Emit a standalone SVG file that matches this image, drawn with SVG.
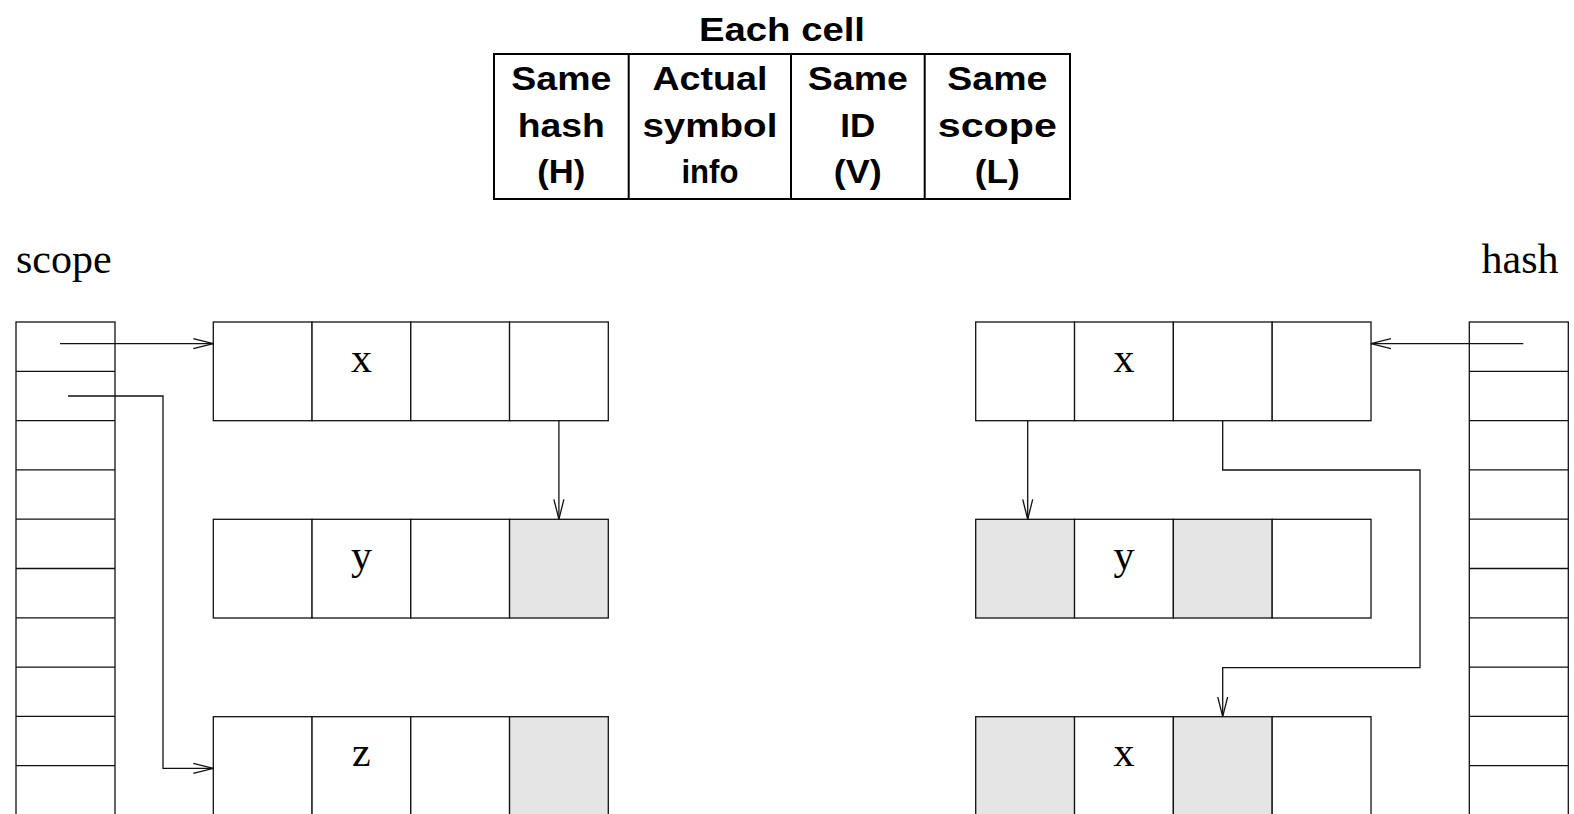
<svg xmlns="http://www.w3.org/2000/svg" width="1574" height="814" viewBox="0 0 1574 814">
<defs>
<style>
.ln{fill:none;stroke:#111;stroke-width:1.3}
.c{fill:#fff;stroke:#111;stroke-width:1.3}
.g{fill:#e5e5e5;stroke:#111;stroke-width:1.3}
.tb{fill:none;stroke:#000;stroke-width:2}
.th{font-family:"Liberation Sans",Arial,sans-serif;font-weight:bold;font-size:34px;text-anchor:middle;fill:#000}
.tt{font-family:"Liberation Serif","Times New Roman",serif;font-size:42px;fill:#000}
.cn{fill:none;stroke:#111;stroke-width:1.3}
</style>
<marker id="ah" markerWidth="22" markerHeight="12" refX="20" refY="6" orient="auto" markerUnits="userSpaceOnUse">
<path d="M0,1 L20,6 L0,11" fill="none" stroke="#111" stroke-width="1.3"/>
</marker>
</defs>
<rect width="1574" height="814" fill="#fff"/>

<g id="legend">
<text class="th" x="782" y="41" textLength="166" lengthAdjust="spacingAndGlyphs">Each cell</text>
<rect class="tb" x="494" y="54" width="576" height="145"/>
<line class="tb" x1="628.7" y1="54" x2="628.7" y2="199"/>
<line class="tb" x1="791" y1="54" x2="791" y2="199"/>
<line class="tb" x1="924.7" y1="54" x2="924.7" y2="199"/>
<text class="th" x="561.3" y="90" textLength="100" lengthAdjust="spacingAndGlyphs">Same</text>
<text class="th" x="561.3" y="137" textLength="87" lengthAdjust="spacingAndGlyphs">hash</text>
<text class="th" x="561.3" y="183" textLength="48" lengthAdjust="spacingAndGlyphs">(H)</text>
<text class="th" x="709.9" y="90" textLength="115" lengthAdjust="spacingAndGlyphs">Actual</text>
<text class="th" x="709.9" y="137" textLength="135" lengthAdjust="spacingAndGlyphs">symbol</text>
<text class="th" x="709.9" y="183" textLength="57" lengthAdjust="spacingAndGlyphs">info</text>
<text class="th" x="857.8" y="90" textLength="100" lengthAdjust="spacingAndGlyphs">Same</text>
<text class="th" x="857.8" y="137" textLength="35" lengthAdjust="spacingAndGlyphs">ID</text>
<text class="th" x="857.8" y="183" textLength="48" lengthAdjust="spacingAndGlyphs">(V)</text>
<text class="th" x="997.3" y="90" textLength="100" lengthAdjust="spacingAndGlyphs">Same</text>
<text class="th" x="997.3" y="137" textLength="119" lengthAdjust="spacingAndGlyphs">scope</text>
<text class="th" x="997.3" y="183" textLength="45" lengthAdjust="spacingAndGlyphs">(L)</text>
</g>

<g id="scope-label"><text class="tt" x="16" y="272.7">scope</text></g>
<g id="hash-label"><text class="tt" x="1558.5" y="272.7" text-anchor="end">hash</text></g>

<g id="scope-table">
<rect class="c" x="16" y="322" width="99" height="500"/>
<path class="ln" d="M16,371.3H115M16,420.6H115M16,469.9H115M16,519.2H115M16,568.5H115M16,617.8H115M16,667.1H115M16,716.4H115M16,765.7H115"/>
</g>

<g id="hash-table">
<rect class="c" x="1469.3" y="322" width="99" height="500"/>
<path class="ln" d="M1469.3,371.3H1568.3M1469.3,420.6H1568.3M1469.3,469.9H1568.3M1469.3,519.2H1568.3M1469.3,568.5H1568.3M1469.3,617.8H1568.3M1469.3,667.1H1568.3M1469.3,716.4H1568.3M1469.3,765.7H1568.3"/>
</g>

<g id="left-x">
<rect class="c" x="213.3" y="322" width="98.75" height="98.7"/>
<rect class="c" x="312.05" y="322" width="98.75" height="98.7"/>
<rect class="c" x="410.8" y="322" width="98.75" height="98.7"/>
<rect class="c" x="509.55" y="322" width="98.75" height="98.7"/>
<text class="tt" x="361.4" y="371.7" text-anchor="middle">x</text>
</g>
<g id="left-y">
<rect class="c" x="213.3" y="519.3" width="98.75" height="98.7"/>
<rect class="c" x="312.05" y="519.3" width="98.75" height="98.7"/>
<rect class="c" x="410.8" y="519.3" width="98.75" height="98.7"/>
<rect class="g" x="509.55" y="519.3" width="98.75" height="98.7"/>
<text class="tt" x="361.4" y="569" text-anchor="middle">y</text>
</g>
<g id="left-z">
<rect class="c" x="213.3" y="716.7" width="98.75" height="98.7"/>
<rect class="c" x="312.05" y="716.7" width="98.75" height="98.7"/>
<rect class="c" x="410.8" y="716.7" width="98.75" height="98.7"/>
<rect class="g" x="509.55" y="716.7" width="98.75" height="98.7"/>
<text class="tt" x="361.4" y="766.4" text-anchor="middle">z</text>
</g>

<g id="right-x">
<rect class="c" x="975.7" y="322" width="98.83" height="98.7"/>
<rect class="c" x="1074.53" y="322" width="98.83" height="98.7"/>
<rect class="c" x="1173.36" y="322" width="98.83" height="98.7"/>
<rect class="c" x="1272.19" y="322" width="98.83" height="98.7"/>
<text class="tt" x="1124" y="371.7" text-anchor="middle">x</text>
</g>
<g id="right-y">
<rect class="g" x="975.7" y="519.3" width="98.83" height="98.7"/>
<rect class="c" x="1074.53" y="519.3" width="98.83" height="98.7"/>
<rect class="g" x="1173.36" y="519.3" width="98.83" height="98.7"/>
<rect class="c" x="1272.19" y="519.3" width="98.83" height="98.7"/>
<text class="tt" x="1124" y="569" text-anchor="middle">y</text>
</g>
<g id="right-x2">
<rect class="g" x="975.7" y="716.7" width="98.83" height="98.7"/>
<rect class="c" x="1074.53" y="716.7" width="98.83" height="98.7"/>
<rect class="g" x="1173.36" y="716.7" width="98.83" height="98.7"/>
<rect class="c" x="1272.19" y="716.7" width="98.83" height="98.7"/>
<text class="tt" x="1124" y="766.4" text-anchor="middle">x</text>
</g>

<g id="connectors">
<path class="cn" d="M60,343.7H213.3" marker-end="url(#ah)"/>
<path class="cn" d="M68,396H163V768.3H213.3" marker-end="url(#ah)"/>
<path class="cn" d="M558.9,420.7V519.3" marker-end="url(#ah)"/>
<path class="cn" d="M1523.3,343.7H1371" marker-end="url(#ah)"/>
<path class="cn" d="M1027.7,420.7V519.3" marker-end="url(#ah)"/>
<path class="cn" d="M1222.7,420.7V470H1420V667.7H1222.7V716.7" marker-end="url(#ah)"/>
</g>
</svg>
